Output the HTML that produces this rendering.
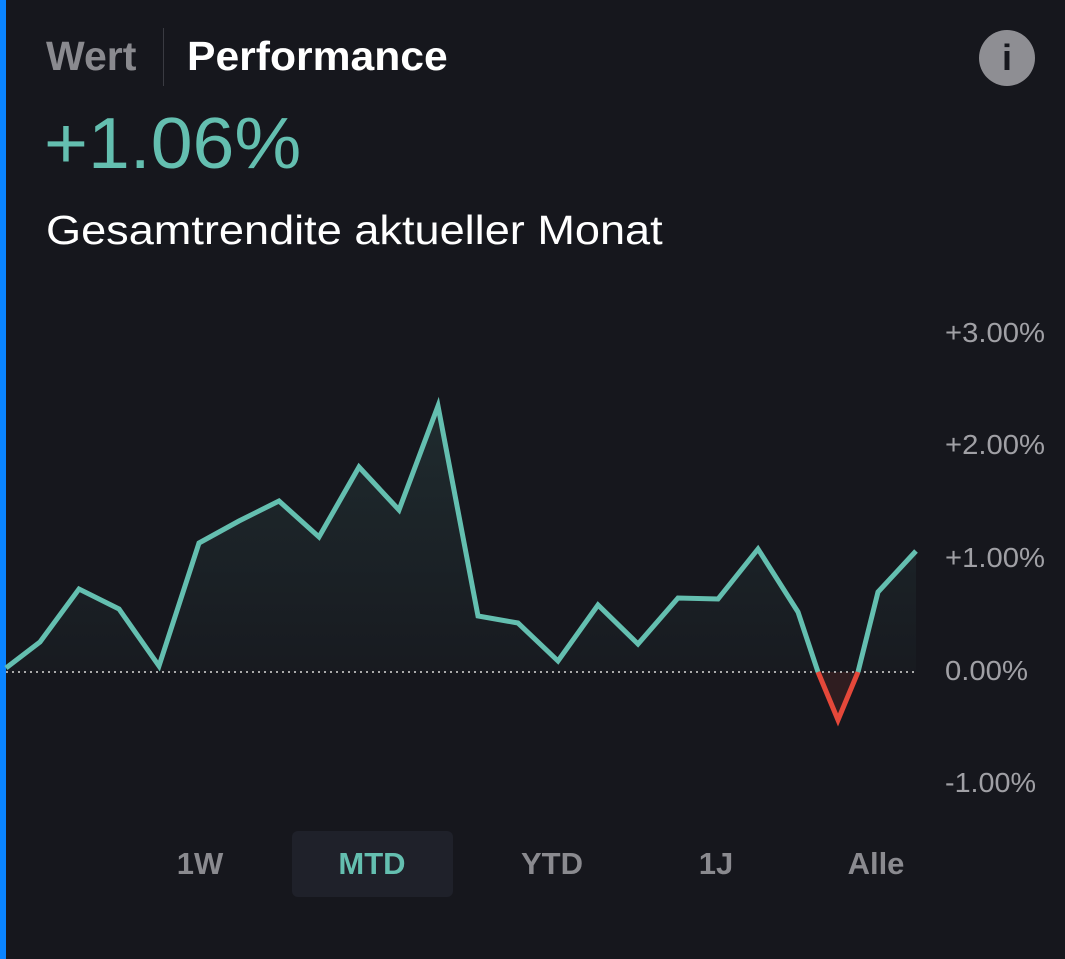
<!DOCTYPE html>
<html><head><meta charset="utf-8"><style>
html,body{margin:0;padding:0;}
body{width:1065px;height:959px;background:#16171d;position:relative;overflow:hidden;font-family:"Liberation Sans",sans-serif;}
.edge{position:absolute;left:0;top:0;width:6px;height:959px;background:#0a84ff;}
.t{position:absolute;white-space:nowrap;transform-origin:0 0;}
</style></head><body>
<div class="edge"></div>
<div class="t" style="left:46px;top:33px;font-size:41px;font-weight:bold;color:#8a8a8f;">Wert</div>
<div style="position:absolute;left:163px;top:28px;width:1px;height:58px;background:#3a3b42;"></div>
<div class="t" style="left:187px;top:33px;font-size:41px;font-weight:bold;color:#fff;transform:scaleX(1.04)">Performance</div>
<div style="position:absolute;left:979px;top:30px;width:56px;height:56px;border-radius:50%;background:#8e8e93;color:#16171d;font-size:36px;font-weight:bold;text-align:center;line-height:56px;">i</div>
<div class="t" style="left:44px;top:103px;font-size:72px;color:#64bfb0;transform:scaleX(1.045)">+1.06%</div>
<div class="t" style="left:46px;top:207px;font-size:41px;color:#fff;transform:scaleX(1.1)">Gesamtrendite aktueller Monat</div>
<svg width="1065" height="959" style="position:absolute;left:0;top:0">
<defs><linearGradient id="g" x1="0" y1="0" x2="0" y2="1"><stop offset="0" stop-color="#64bfb0" stop-opacity="0.12"/><stop offset="1" stop-color="#64bfb0" stop-opacity="0.02"/></linearGradient></defs>
<polygon fill="url(#g)" points="6,668 40,642 79,589 119,609 159,666 199,543 239,521 279,501 319,537 359,467 399,510 438,406 478,616 518,623 558,661 598,605 638,644 678,598 718,599 758,549 798,612 818,672 858,672 878,592 916,551 916,672 6,672"/>
<polygon fill="#e5483a" fill-opacity="0.12" points="818,672 838,720 858,672"/>
<line x1="6" y1="672" x2="916" y2="672" stroke="#aaa" stroke-width="2" stroke-dasharray="2,4"/>
<polyline fill="none" stroke="#64bfb0" stroke-width="5" stroke-linejoin="miter" points="6,668 40,642 79,589 119,609 159,666 199,543 239,521 279,501 319,537 359,467 399,510 438,406 478,616 518,623 558,661 598,605 638,644 678,598 718,599 758,549 798,612 818,672"/>
<polyline fill="none" stroke="#e5483a" stroke-width="5" points="818,672 838,720 858,672"/>
<polyline fill="none" stroke="#64bfb0" stroke-width="5" points="858,672 878,592 916,551"/>
<g font-family="Liberation Sans,sans-serif" font-size="28" fill="#a0a0a5">
<text x="945" y="342" textLength="100" lengthAdjust="spacingAndGlyphs">+3.00%</text>
<text x="945" y="454" textLength="100" lengthAdjust="spacingAndGlyphs">+2.00%</text>
<text x="945" y="567" textLength="100" lengthAdjust="spacingAndGlyphs">+1.00%</text>
<text x="945" y="680" textLength="83" lengthAdjust="spacingAndGlyphs">0.00%</text>
<text x="945" y="792" textLength="91" lengthAdjust="spacingAndGlyphs">-1.00%</text>
</g>
</svg>
<div style="position:absolute;left:292px;top:831px;width:161px;height:66px;background:#1f212a;border-radius:6px;"></div>
<div class="t" style="left:200px;top:846px;font-size:31px;font-weight:bold;color:#8a8a8f;transform:translateX(-50%)">1W</div>
<div class="t" style="left:372px;top:846px;font-size:31px;font-weight:bold;color:#64bfb0;transform:translateX(-50%)">MTD</div>
<div class="t" style="left:552px;top:846px;font-size:31px;font-weight:bold;color:#8a8a8f;transform:translateX(-50%)">YTD</div>
<div class="t" style="left:716px;top:846px;font-size:31px;font-weight:bold;color:#8a8a8f;transform:translateX(-50%)">1J</div>
<div class="t" style="left:876px;top:846px;font-size:31px;font-weight:bold;color:#8a8a8f;transform:translateX(-50%)">Alle</div>
</body></html>
